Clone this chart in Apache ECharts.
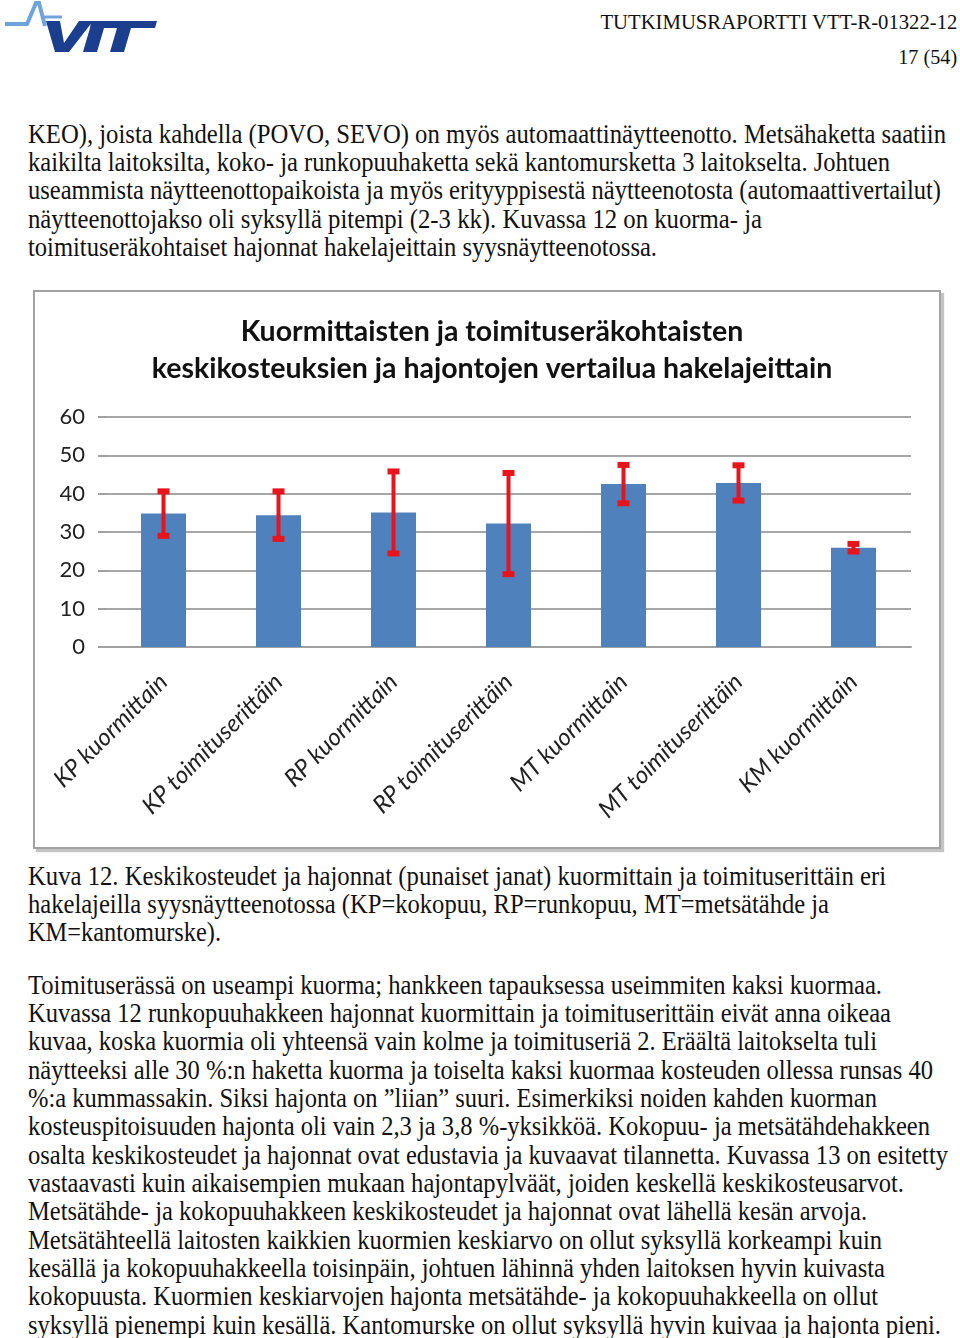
<!DOCTYPE html>
<html>
<head>
<meta charset="utf-8">
<script src="https://cdn.jsdelivr.net/npm/echarts@6/dist/echarts.min.js"></script>
<style>
  body { margin: 0; background: #fff; }
  #page { position: relative; width: 960px; height: 1338px; overflow: hidden; font-family: "Liberation Serif", "DejaVu Serif", serif; color: #111; }
  .ln { position: absolute; left: 28px; white-space: nowrap; font-size: 27px; line-height: 28px; transform-origin: 0 50%; }
  .hd { position: absolute; white-space: nowrap; font-size: 22px; line-height: 24px; transform-origin: 100% 50%; }
  #frame { position: absolute; left: 33px; top: 290px; width: 904px; height: 555px; border: 2px solid #a2a2a2; box-shadow: 3px 3px 1px #c4c4c4; }
  #chart { width: 904px; height: 555px; }
</style>
</head>
<body>
<div id="page">
  <svg style="position:absolute;left:0;top:0" width="170" height="60" viewBox="0 0 170 60">
    <polyline points="5,24 27,24 36,3 39,3 45,26" fill="none" stroke="#6fa3dc" stroke-width="4"/>
    <line x1="42" y1="17" x2="62" y2="17" stroke="#6fa3dc" stroke-width="3"/>
    <polygon points="46,21 60,21 64,43 79,21 93,21 69,52 55,52" fill="#1b3f8e"/>
    <polygon points="91,21 157,21 155,28 131,28 124,52 110,52 117,28 104,28 97,52 83,52 90,28" fill="#1b3f8e"/>
  </svg>
  <div class="hd" style="right:3px;top:10px" data-w="357">TUTKIMUSRAPORTTI VTT-R-01322-12</div>
  <div class="hd" style="right:3px;top:45px" data-w="59">17 (54)</div>

  <div id="body"></div>

  <div id="frame"><div id="chart"></div></div>
</div>

<script>
  // lukuarvot kuvasta luettu
  var categories = ['KP kuormittain', 'KP toimituserittäin', 'RP kuormittain', 'RP toimituserittäin',
                    'MT kuormittain', 'MT toimituserittäin', 'KM kuormittain']
  var keskikosteus = [34.8, 34.4, 35.1, 32.2, 42.5, 42.8, 25.9]
  var hajonta = [5.8, 6.2, 10.7, 13.2, 5.0, 4.6, 1.0]
  var yTicks = [0, 10, 20, 30, 40, 50, 60]

  // tekstirivit: [keskikohta y, oikea reuna x, teksti]
  var lines = [
    [135, 946, 'KEO), joista kahdella (POVO, SEVO) on myös automaattinäytteenotto.  Metsähaketta saatiin'],
    [163, 890, 'kaikilta laitoksilta, koko- ja runkopuuhaketta sekä kantomursketta 3 laitokselta. Johtuen'],
    [191, 941, 'useammista näytteenottopaikoista ja myös erityyppisestä näytteenotosta (automaattivertailut)'],
    [220, 762, 'näytteenottojakso oli syksyllä pitempi (2-3 kk).  Kuvassa 12 on kuorma- ja'],
    [248, 657, 'toimituseräkohtaiset hajonnat hakelajeittain syysnäytteenotossa.'],
    [877, 886, 'Kuva 12. Keskikosteudet ja hajonnat (punaiset janat) kuormittain ja toimituserittäin eri'],
    [905, 829, 'hakelajeilla syysnäytteenotossa (KP=kokopuu, RP=runkopuu, MT=metsätähde ja'],
    [933, 221, 'KM=kantomurske).'],
    [986, 882, 'Toimituserässä on useampi kuorma; hankkeen tapauksessa useimmiten kaksi kuormaa.'],
    [1014, 891, 'Kuvassa 12 runkopuuhakkeen hajonnat kuormittain ja toimituserittäin eivät anna oikeaa'],
    [1042, 877, 'kuvaa, koska kuormia oli yhteensä vain kolme ja toimituseriä 2. Eräältä laitokselta tuli'],
    [1071, 933, 'näytteeksi alle 30 %:n haketta kuorma ja toiselta kaksi kuormaa kosteuden ollessa runsas 40'],
    [1099, 877, '%:a kummassakin. Siksi hajonta on ”liian” suuri. Esimerkiksi noiden kahden kuorman'],
    [1127, 930, 'kosteuspitoisuuden hajonta oli vain 2,3 ja 3,8 %-yksikköä. Kokopuu- ja metsätähdehakkeen'],
    [1156, 948, 'osalta keskikosteudet ja hajonnat ovat edustavia ja kuvaavat tilannetta. Kuvassa 13 on esitetty'],
    [1184, 904, 'vastaavasti kuin aikaisempien mukaan hajontapylväät, joiden keskellä keskikosteusarvot.'],
    [1212, 867, 'Metsätähde- ja kokopuuhakkeen keskikosteudet ja hajonnat ovat lähellä kesän arvoja.'],
    [1241, 882, 'Metsätähteellä laitosten kaikkien kuormien keskiarvo on ollut syksyllä korkeampi kuin'],
    [1269, 885, 'kesällä ja kokopuuhakkeella toisinpäin, johtuen lähinnä yhden laitoksen hyvin kuivasta'],
    [1297, 878, 'kokopuusta. Kuormien keskiarvojen hajonta metsätähde- ja kokopuuhakkeella on ollut'],
    [1326, 941, 'syksyllä pienempi kuin kesällä. Kantomurske on ollut syksyllä hyvin kuivaa ja hajonta pieni.']
  ]

  var body = document.getElementById('body')
  lines.forEach(function (l) {
    var d = document.createElement('div')
    d.className = 'ln'
    d.style.top = (l[0] - 15) + 'px'
    d.textContent = l[2]
    body.appendChild(d)
    var w = d.getBoundingClientRect().width
    d.style.transform = 'scaleX(' + ((l[1] - 28) / w) + ')'
  })
  document.querySelectorAll('.hd').forEach(function (d) {
    var w = d.getBoundingClientRect().width
    d.style.transform = 'scaleX(' + (d.dataset.w / w) + ')'
  })

  var errData = keskikosteus.map(function (v, i) {
    return [i, v - hajonta[i], v + hajonta[i]]
  })

  var chart = echarts.init(document.getElementById('chart'))
  chart.setOption({
    animation: false,
    title: {
      text: 'Kuormittaisten ja toimituseräkohtaisten\nkeskikosteuksien ja hajontojen vertailua hakelajeittain',
      left: 452,
      top: 16,
      textAlign: 'center',
      textStyle: {
        fontFamily: 'Lato',
        fontWeight: 'bold',
        fontSize: 28.5,
        lineHeight: 37,
        color: '#111'
      }
    },
    grid: {
      left: 71,
      right: 28,
      top: 125,
      bottom: 200
    },
    xAxis: {
      type: 'category',
      data: categories,
      axisLine: {lineStyle: {color: '#a0a0a0', width: 2}},
      axisTick: {length: 8, lineStyle: {color: '#a0a0a0', width: 2}},
      axisLabel: {
        rotate: 45,
        fontStyle: 'italic',
        fontFamily: 'Lato',
        fontSize: 24,
        margin: 31,
        color: '#222'
      }
    },
    yAxis: {
      type: 'value',
      min: 0,
      max: 60,
      interval: 10,
      axisLine: {show: false},
      axisTick: {show: true, length: 8, lineStyle: {color: '#a0a0a0', width: 2}},
      axisLabel: {
        fontFamily: 'Lato',
        fontSize: 22,
        margin: 21,
        color: '#222',
        formatter: function (v) { return yTicks.indexOf(v) >= 0 ? String(v) : '' }
      },
      splitLine: {lineStyle: {color: '#a6a6a6', width: 2}}
    },
    series: [
      {
        name: 'keskikosteus',
        type: 'bar',
        data: keskikosteus,
        barWidth: 45,
        itemStyle: {color: '#4f81bd'}
      },
      {
        name: 'hajonta',
        type: 'custom',
        data: errData,
        z: 10,
        renderItem: function (params, api) {
          var lo = api.coord([api.value(0), api.value(1)])
          var hi = api.coord([api.value(0), api.value(2)])
          var c = 6
          var st = {stroke: '#e8141c', lineWidth: 4}
          return {
            type: 'group',
            children: [
              {type: 'line', shape: {x1: hi[0], y1: hi[1], x2: lo[0], y2: lo[1]}, style: st},
              {type: 'line', shape: {x1: hi[0] - c, y1: hi[1], x2: hi[0] + c, y2: hi[1]}, style: {stroke: '#e8141c', lineWidth: 6}},
              {type: 'line', shape: {x1: lo[0] - c, y1: lo[1], x2: lo[0] + c, y2: lo[1]}, style: {stroke: '#e8141c', lineWidth: 6}}
            ]
          }
        }
      }
    ]
  })
</script>
</body>
</html>
